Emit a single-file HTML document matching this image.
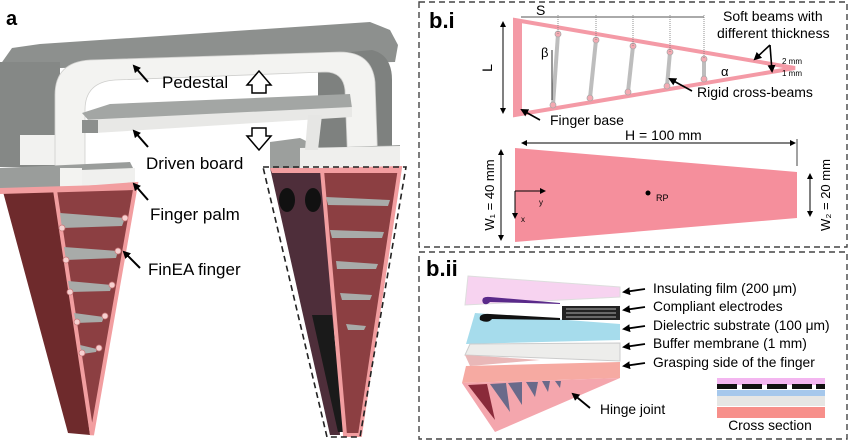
<!DOCTYPE html>
<html><head><meta charset="utf-8"><style>
html,body{margin:0;padding:0;background:#fff;}
svg{display:block;font-family:"Liberation Sans",sans-serif;}
</style></head><body>
<svg width="850" height="441" viewBox="0 0 850 441">
<defs>
<marker id="ah" markerWidth="8" markerHeight="8" refX="6" refY="4" orient="auto" markerUnits="userSpaceOnUse"><path d="M0,0 L8,4 L0,8 Z" fill="#000"/></marker>
<marker id="ahs" markerWidth="6" markerHeight="6" refX="5" refY="3" orient="auto-start-reverse" markerUnits="userSpaceOnUse"><path d="M0,0 L6,3 L0,6 Z" fill="#000"/></marker>
</defs>

<g>
<text x="6" y="25" font-size="20" font-weight="bold">a</text>
<polygon points="0,65 12,48 40,44 370,22 390,30 398,45 395,62 60,68" fill="#8d908e"/>
<rect x="0" y="62" width="60" height="105" fill="#858886"/>
<rect x="20" y="135" width="40" height="30" fill="#f2f2f0"/>
<path d="M318,55 L372,50 Q392,55 392,80 L392,170 L318,170 Z" fill="#7e817f"/>
<path d="M55,195 L55,95 Q55,62 90,60 L340,52 Q372,52 375,82 L378,168 L348,168 L345,90 Q343,72 325,72 L115,80 Q85,82 85,110 L85,195 Z" fill="#f3f3f1" stroke="#cfcfcd" stroke-width="0.8"/>
<polygon points="82,113 110,104 350,94 352,108 90,122" fill="#a3a6a4"/>
<polygon points="82,120 352,107 352,117 95,133 82,133" fill="#e8e8e6"/>
<polygon points="82,120 98,120 98,133 82,133" fill="#8c8f8d"/>
<polygon points="0,168 130,162 135,172 135,190 0,190" fill="#9a9d9b"/>
<polygon points="60,168 82,168 82,192 60,192" fill="#f3f3f1"/>
<polygon points="82,170 135,168 135,190 82,192" fill="#f0f0ee"/>
<polygon points="2,188 58,190 90,435 68,433" fill="#6e2a2c"/>
<polygon points="55,190 136,184 92,435" fill="#8c3f42" stroke="#f29ea0" stroke-width="4"/>
<polygon points="0,188 135,184 135,190 0,194" fill="#f29ea0"/>
<g fill="#a8aba9">
<polygon points="60,213 125,218 122,226 62,228"/>
<polygon points="64,247 118,251 116,258 66,260"/>
<polygon points="68,281 112,285 110,291 70,292"/>
<polygon points="74,313 104,317 102,322 76,323"/>
<polygon points="80,345 97,349 96,352 82,354"/>
</g>
<g fill="#f7d0d0" stroke="#c97a7c" stroke-width="0.8">
<circle cx="62" cy="228" r="3"/><circle cx="125" cy="218" r="3"/>
<circle cx="66" cy="260" r="3"/><circle cx="118" cy="251" r="3"/>
<circle cx="70" cy="292" r="3"/><circle cx="112" cy="285" r="3"/>
<circle cx="77" cy="322" r="3"/><circle cx="105" cy="316" r="3"/>
<circle cx="82" cy="353" r="3"/><circle cx="99" cy="348" r="3"/>
</g>
<polygon points="270,142 300,138 320,148 400,145 400,168 270,168" fill="#9c9f9d"/>
<polygon points="300,148 400,146 400,168 300,168" fill="#efefed"/>
<polygon points="308,115 322,115 318,150 305,150" fill="#e6e6e4"/>
<polygon points="270,168 325,170 340,435 330,435" fill="#4e2e3a"/>
<ellipse cx="287" cy="200" rx="8" ry="12" fill="#111"/>
<ellipse cx="313" cy="200" rx="8" ry="12" fill="#111"/>
<polygon points="312,315 332,315 345,432 338,432" fill="#1a1a1a"/>
<polygon points="322,170 400,168 360,435 345,435" fill="#8c3f42" stroke="#f29ea0" stroke-width="4"/>
<polygon points="270,168 400,168 400,173 272,173" fill="#f29ea0"/>
<g fill="#a8aba9">
<polygon points="326,197 390,200 388,206 328,205"/>
<polygon points="330,230 384,232 382,238 332,238"/>
<polygon points="336,261 378,264 376,269 337,269"/>
<polygon points="340,293 372,295 370,300 342,300"/>
<polygon points="346,324 366,326 364,330 348,330"/>
</g>
<polygon points="263,167 406,167 360,437 327,437" fill="none" stroke="#222" stroke-width="1.6" stroke-dasharray="6,4"/>
<g font-size="17">
<text x="162" y="88">Pedestal</text>
<text x="146" y="169">Driven board</text>
<text x="150" y="220">Finger palm</text>
<text x="148" y="275">FinEA finger</text>
</g>
<g stroke="#000" stroke-width="2" marker-end="url(#ah)">
<line x1="148" y1="82" x2="134" y2="66"/>
<line x1="148" y1="147" x2="134" y2="131"/>
<line x1="148" y1="200" x2="134" y2="184"/>
<line x1="140" y1="268" x2="124" y2="252"/>
</g>
<path d="M252,93 L252,85 L247,85 L259,71 L271,85 L266,85 L266,93 Z" fill="#fff" stroke="#000" stroke-width="1.5"/>
<path d="M252,128 L252,136 L247,136 L259,150 L271,136 L266,136 L266,128 Z" fill="#fff" stroke="#000" stroke-width="1.5"/>
</g>

<g>
<rect x="419" y="2" width="428" height="245" fill="none" stroke="#444" stroke-width="1.4" stroke-dasharray="6,4"/>
<text x="429" y="28" font-size="22" font-weight="bold">b.i</text>
<polygon points="515,20 795,68 515,115" fill="none" stroke="#f49aa6" stroke-width="4"/>
<polygon points="515,20 522,22 522,114 515,115" fill="#f49aa6"/>
<g stroke="#bdbdbd" stroke-width="4">
<line x1="558" y1="34" x2="553" y2="105"/>
<line x1="596" y1="40" x2="590" y2="98"/>
<line x1="633" y1="46" x2="628" y2="92"/>
<line x1="670" y1="52" x2="667" y2="86"/>
<line x1="704" y1="59" x2="704" y2="79"/>
</g>
<g fill="#f4aab2" stroke="#aaa" stroke-width="0.8">
<circle cx="558" cy="34" r="3"/><circle cx="553" cy="105" r="3"/>
<circle cx="596" cy="40" r="3"/><circle cx="590" cy="98" r="3"/>
<circle cx="633" cy="46" r="3"/><circle cx="628" cy="92" r="3"/>
<circle cx="670" cy="52" r="3"/><circle cx="667" cy="86" r="3"/>
<circle cx="704" cy="59" r="3"/><circle cx="704" cy="79" r="3"/>
</g>
<line x1="552" y1="50" x2="552" y2="100" stroke="#333" stroke-width="1"/>
<line x1="521" y1="17" x2="704" y2="17" stroke="#555" stroke-width="1"/>
<g stroke="#777" stroke-width="0.8" stroke-dasharray="1,1">
<line x1="558" y1="15" x2="558" y2="34"/><line x1="596" y1="15" x2="596" y2="40"/>
<line x1="633" y1="15" x2="633" y2="46"/><line x1="670" y1="15" x2="670" y2="52"/>
<line x1="704" y1="15" x2="704" y2="59"/>
</g>
<text x="536" y="15" font-size="14">S</text>
<line x1="503" y1="22" x2="503" y2="113" stroke="#000" stroke-width="1" marker-end="url(#ahs)" marker-start="url(#ahs)"/>
<text x="492" y="68" font-size="14" transform="rotate(-90 492 68)" text-anchor="middle">L</text>
<text x="541" y="57" font-size="13">β</text>
<text x="723" y="21" font-size="14">Soft beams with</text>
<text x="717" y="38" font-size="14">different thickness</text>
<g stroke="#000" stroke-width="1.6" marker-end="url(#ah)">
<line x1="770" y1="45" x2="755" y2="59"/><line x1="770" y1="45" x2="772" y2="71"/>
</g>
<text x="782" y="64" font-size="8">2 mm</text>
<text x="782" y="76" font-size="8">1 mm</text>
<text x="721" y="76" font-size="13">α</text>
<text x="697" y="97" font-size="14">Rigid cross-beams</text>
<line x1="692" y1="91" x2="670" y2="79" stroke="#000" stroke-width="1.6" marker-end="url(#ah)"/>
<text x="550" y="125" font-size="14">Finger base</text>
<line x1="540" y1="120" x2="522" y2="110" stroke="#000" stroke-width="1.6" marker-end="url(#ah)"/>
<text x="625" y="140" font-size="14">H = 100 mm</text>
<line x1="522" y1="143" x2="795" y2="143" stroke="#000" stroke-width="1" marker-end="url(#ahs)" marker-start="url(#ahs)"/>
<line x1="797" y1="139" x2="797" y2="166" stroke="#444" stroke-width="1"/>
<polygon points="515,148 797,172 797,218 515,242" fill="#f58f9c"/>
<line x1="501" y1="150" x2="501" y2="240" stroke="#000" stroke-width="1" marker-end="url(#ahs)" marker-start="url(#ahs)"/>
<text x="494" y="195" font-size="13" text-anchor="middle" transform="rotate(-90 494 195)">W₁ = 40 mm</text>
<line x1="810" y1="174" x2="810" y2="216" stroke="#000" stroke-width="1" marker-end="url(#ahs)" marker-start="url(#ahs)"/>
<text x="830" y="195" font-size="13" text-anchor="middle" transform="rotate(-90 830 195)">W₂ = 20 mm</text>
<circle cx="648" cy="193" r="2.5" fill="#000"/>
<text x="656" y="201" font-size="9">RP</text>
<line x1="515" y1="191" x2="545" y2="191" stroke="#000" stroke-width="1" marker-end="url(#ahs)"/>
<line x1="515" y1="191" x2="515" y2="218" stroke="#000" stroke-width="1" marker-end="url(#ahs)"/>
<text x="539" y="205" font-size="8">y</text>
<text x="521" y="222" font-size="8">x</text>
</g>

<g>
<rect x="419" y="252" width="428" height="187" fill="none" stroke="#444" stroke-width="1.4" stroke-dasharray="6,4"/>
<text x="426" y="276" font-size="22" font-weight="bold">b.ii</text>
<polygon points="468,276 620,287 620,297 465,305" fill="#f7d3f0" stroke="#ddd"/>
<path d="M483,303 Q480,296 490,297 L560,303 L560,304 L490,302 Q486,306 483,303 Z" fill="#5a2a8a"/>
<polygon points="475,313 620,324 620,340 466,344" fill="#a6dcec"/>
<path d="M480,320 Q478,313 490,314 L560,318 L560,320 L492,319 Q488,324 480,320 Z" fill="#111"/>
<rect x="562" y="306" width="58" height="14" fill="#222"/>
<g stroke="#ddd" stroke-width="0.8"><line x1="566" y1="309" x2="616" y2="309"/><line x1="566" y1="313" x2="616" y2="313"/><line x1="566" y1="317" x2="616" y2="317"/></g>
<polygon points="470,344 620,343 620,361 465,355" fill="#ededeb" stroke="#ccc"/>
<polygon points="465,355 540,360 470,366" fill="#e9b8b8"/>
<polygon points="466,366 620,362 620,378 462,383" fill="#f6aaa2"/>
<polygon points="462,383 620,378 495,432" fill="#f4a6ad"/>
<g>
<polygon points="468,385 487,384 495,420" fill="#8a2a3a"/>
<polygon points="490,384 506,383 510,412" fill="#6a6a8a"/>
<polygon points="508,383 522,382 522,405" fill="#6a6a8a"/>
<polygon points="526,382 538,382 535,397" fill="#6a6a8a"/>
<polygon points="542,381 550,381 548,392" fill="#6a6a8a"/>
<polygon points="555,381 561,381 560,388" fill="#6a6a8a"/>
</g>
<g font-size="13.8">
<text x="653" y="293">Insulating film (200 μm)</text>
<text x="653" y="311">Compliant electrodes</text>
<text x="653" y="330">Dielectric substrate (100 μm)</text>
<text x="653" y="348">Buffer membrane (1 mm)</text>
<text x="653" y="367">Grasping side of the finger</text>
<text x="600" y="414">Hinge joint</text>
<text x="770" y="430" text-anchor="middle">Cross section</text>
</g>
<g stroke="#000" stroke-width="1.8" marker-end="url(#ah)">
<line x1="645" y1="289" x2="624" y2="292"/>
<line x1="645" y1="307" x2="624" y2="310"/>
<line x1="645" y1="326" x2="624" y2="329"/>
<line x1="645" y1="344" x2="624" y2="347"/>
<line x1="645" y1="363" x2="624" y2="366"/>
<line x1="590" y1="408" x2="573" y2="394"/>
</g>
<g>
<rect x="717" y="378" width="108" height="7" fill="#f3b6f0"/>
<rect x="717" y="385" width="108" height="5" fill="#fff"/>
<g fill="#111"><rect x="717" y="384" width="20" height="5"/><rect x="742" y="384" width="20" height="5"/><rect x="767" y="384" width="20" height="5"/><rect x="792" y="384" width="20" height="5"/><rect x="816" y="384" width="9" height="5"/></g>
<rect x="717" y="390" width="108" height="6" fill="#a6c8ec"/>
<rect x="717" y="396" width="108" height="10" fill="#e6e6e4"/>
<rect x="717" y="407" width="108" height="11" fill="#f78f8a"/>
</g>
</g>
</svg>
</body></html>
